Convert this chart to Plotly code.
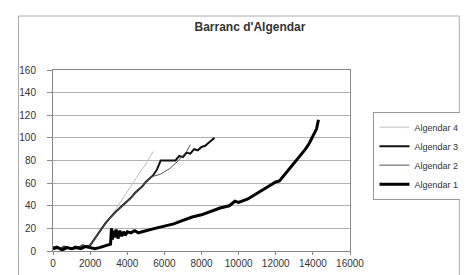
import plotly.graph_objects as go

# ---- data ----
x1 = [0, 250, 500, 750, 1000, 1250, 1500, 1750, 2000, 2250, 2500, 2750, 3000, 3100, 3150, 3200, 3250, 3300, 3400, 3500,
      3600, 3700, 3800, 3900, 4000, 4200, 4400, 4600, 4800, 5000, 5500, 6000, 6500, 7000, 7500, 8000, 8500, 9000, 9500,
      9800, 10000, 10500, 11000, 11500, 12000, 12200, 12500, 12800, 13000, 13300, 13600, 13800, 14000, 14200, 14300]
y1 = [2, 3, 1, 3, 2, 3, 2, 4, 3, 2, 3, 4, 5, 6, 20, 10, 18, 12, 19, 11,
      18, 13, 17, 14, 17, 16, 18, 16, 17, 18, 20, 22, 24, 27, 30, 32, 35, 38, 40,
      44, 43, 46, 51, 56, 61, 62, 68, 73, 78, 83, 90, 95, 101, 108, 116]

x3 = [0, 200, 400, 600, 800, 1000, 1200, 1400, 1600, 1800, 2000, 2200, 2400, 2600, 2800, 3000, 3200, 3400, 3600,
      3800, 4000, 4200, 4400, 4600, 4800, 5000, 5200, 5400, 5600, 5800, 6000, 6300, 6600, 6800, 7000, 7200, 7400,
      7600, 7800, 8000, 8200, 8400, 8600, 8700]
y3 = [3, 4, 2, 4, 3, 2, 4, 3, 5, 4, 5, 10, 15, 19, 24, 28, 32, 35, 38,
      41, 44, 47, 51, 54, 57, 61, 64, 67, 72, 80, 80, 80, 80, 84, 83, 87, 86,
      90, 89, 92, 93, 96, 99, 100]

x2 = [0, 200, 400, 600, 800, 1000, 1200, 1400, 1600, 1800, 2000, 2200, 2400, 2600, 2800, 3000, 3200, 3400, 3600,
      3800, 4000, 4200, 4400, 4600, 4800, 5000, 5200, 5400, 5600, 5800, 6000, 6300, 6700, 7000, 7200, 7400]
y2 = [3, 4, 2, 4, 3, 2, 4, 3, 5, 4, 5, 10, 15, 19, 24, 28, 32, 35, 38,
      41, 44, 47, 51, 54, 57, 61, 64, 66, 67, 68, 70, 73, 79, 84, 88, 94]

x4 = [0, 1000, 2000, 2500, 3000, 3500, 4000, 4500, 5000, 5400]
y4 = [3, 3, 5, 16, 28, 40, 53, 65, 77, 88]

names = ["Algendar 1", "Algendar 2", "Algendar 3", "Algendar 4"]
xticks = [0, 2000, 4000, 6000, 8000, 10000, 12000, 14000, 16000]
yticks = [0, 20, 40, 60, 80, 100, 120, 140, 160]

fig = go.Figure()
fig.add_trace(go.Scatter(x=x4, y=y4, mode="lines", name=names[3], line=dict(color="#bdbdbd", width=1)))
fig.add_trace(go.Scatter(x=x3, y=y3, mode="lines", name=names[2], line=dict(color="#111111", width=2)))
fig.add_trace(go.Scatter(x=x2, y=y2, mode="lines", name=names[1], line=dict(color="#555555", width=1)))
fig.add_trace(go.Scatter(x=x1, y=y1, mode="lines", name=names[0], line=dict(color="#000000", width=3)))

family = "Liberation Sans, Arial, sans-serif"
font = dict(family=family, size=10, color="#333333")

fig.update_layout(
    width=468, height=275,
    margin=dict(l=45, r=105, t=62, b=32),
    paper_bgcolor="white", plot_bgcolor="white",
    font=font,
    title=dict(text="<b>Barranc d'Algendar</b>", x=0.517, xanchor="center", xref="container",
               y=0.93, yanchor="middle", font=dict(family=family, size=12, color="#333333")),
    showlegend=True,
    legend=dict(x=1.079, xanchor="left", y=0.77, yanchor="top", bordercolor="#999999", borderwidth=1,
                bgcolor="white", font=dict(family=family, size=9, color="#333333"), tracegroupgap=0, itemwidth=30),
    xaxis=dict(range=[0, 16000], tickvals=xticks, ticktext=[str(v) for v in xticks], showgrid=False,
               showline=True, linecolor="#888888", linewidth=1, mirror=True, ticks="outside", ticklen=3,
               tickcolor="#888888", zeroline=False, fixedrange=True),
    yaxis=dict(range=[0, 160], tickvals=yticks, showgrid=True, gridcolor="#b0b0b0", gridwidth=1,
               showline=True, linecolor="#888888", linewidth=1, mirror=True, ticks="outside", ticklen=5,
               ticklabelstandoff=9, tickcolor="#888888", zeroline=False, fixedrange=True),
    shapes=[dict(type="rect", xref="paper", yref="paper", x0=(8 - 45) / 318, x1=(480 - 45) / 318,
                 y0=(243 - 273) / 181, y1=(243 - 8) / 181, line=dict(color="#aaaaaa", width=1))],
)

fig.write_html("out.html")
